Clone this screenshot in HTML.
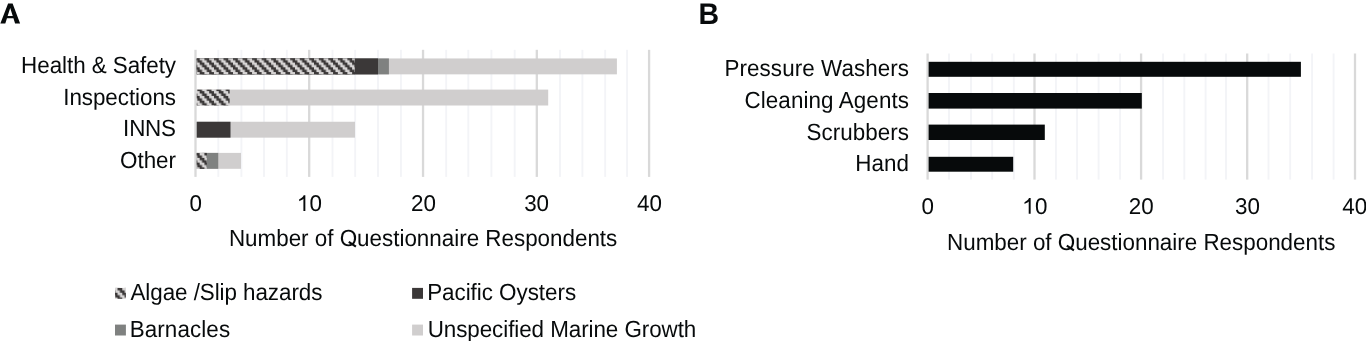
<!DOCTYPE html><html><head><meta charset="utf-8"><style>html,body{margin:0;padding:0;background:#fff;width:1366px;height:341px;overflow:hidden}svg{display:block;will-change:transform}text{text-rendering:geometricPrecision;font-family:"Liberation Sans",sans-serif;fill:#070a0b}</style></head><body>
<svg width="1366" height="341" viewBox="0 0 1366 341">
<defs>
<pattern id="h" patternUnits="userSpaceOnUse" width="9.530" height="9.530" x="194.90" y="57.80"><rect width="9.530" height="9.530" fill="#d6d4d4"/><path d="M-30.972,-7.147 L-30.972,-4.765 L-28.590,-4.765 L-28.590,-2.382 L-26.207,-2.382 L-26.207,0.000 L-23.825,0.000 L-23.825,2.382 L-21.442,2.382 L-21.442,4.765 L-19.060,4.765 L-19.060,7.147 L-16.677,7.147 L-16.677,9.530 L-14.295,9.530 L-14.295,11.912 L-11.912,11.912 L-11.912,14.295 L-9.530,14.295 L-9.530,16.677 L-7.147,16.677 L-7.147,19.060 L-11.912,19.060 L-11.912,16.677 L-14.295,16.677 L-14.295,14.295 L-16.677,14.295 L-16.677,11.912 L-19.060,11.912 L-19.060,9.530 L-21.442,9.530 L-21.442,7.147 L-23.825,7.147 L-23.825,4.765 L-26.207,4.765 L-26.207,2.382 L-28.590,2.382 L-28.590,0.000 L-30.972,0.000 L-30.972,-2.382 L-33.355,-2.382 L-33.355,-4.765 L-35.737,-4.765 L-35.737,-7.147Z M-21.442,-7.147 L-21.442,-4.765 L-19.060,-4.765 L-19.060,-2.382 L-16.677,-2.382 L-16.677,0.000 L-14.295,0.000 L-14.295,2.382 L-11.912,2.382 L-11.912,4.765 L-9.530,4.765 L-9.530,7.147 L-7.147,7.147 L-7.147,9.530 L-4.765,9.530 L-4.765,11.912 L-2.382,11.912 L-2.382,14.295 L0.000,14.295 L0.000,16.677 L2.382,16.677 L2.382,19.060 L-2.382,19.060 L-2.382,16.677 L-4.765,16.677 L-4.765,14.295 L-7.147,14.295 L-7.147,11.912 L-9.530,11.912 L-9.530,9.530 L-11.912,9.530 L-11.912,7.147 L-14.295,7.147 L-14.295,4.765 L-16.677,4.765 L-16.677,2.382 L-19.060,2.382 L-19.060,0.000 L-21.442,0.000 L-21.442,-2.382 L-23.825,-2.382 L-23.825,-4.765 L-26.207,-4.765 L-26.207,-7.147Z M-11.912,-7.147 L-11.912,-4.765 L-9.530,-4.765 L-9.530,-2.382 L-7.147,-2.382 L-7.147,0.000 L-4.765,0.000 L-4.765,2.382 L-2.382,2.382 L-2.382,4.765 L0.000,4.765 L0.000,7.147 L2.382,7.147 L2.382,9.530 L4.765,9.530 L4.765,11.912 L7.147,11.912 L7.147,14.295 L9.530,14.295 L9.530,16.677 L11.912,16.677 L11.912,19.060 L7.147,19.060 L7.147,16.677 L4.765,16.677 L4.765,14.295 L2.382,14.295 L2.382,11.912 L0.000,11.912 L0.000,9.530 L-2.382,9.530 L-2.382,7.147 L-4.765,7.147 L-4.765,4.765 L-7.147,4.765 L-7.147,2.382 L-9.530,2.382 L-9.530,0.000 L-11.912,0.000 L-11.912,-2.382 L-14.295,-2.382 L-14.295,-4.765 L-16.677,-4.765 L-16.677,-7.147Z M-2.382,-7.147 L-2.382,-4.765 L0.000,-4.765 L0.000,-2.382 L2.382,-2.382 L2.382,0.000 L4.765,0.000 L4.765,2.382 L7.147,2.382 L7.147,4.765 L9.530,4.765 L9.530,7.147 L11.912,7.147 L11.912,9.530 L14.295,9.530 L14.295,11.912 L16.677,11.912 L16.677,14.295 L19.060,14.295 L19.060,16.677 L21.442,16.677 L21.442,19.060 L16.677,19.060 L16.677,16.677 L14.295,16.677 L14.295,14.295 L11.912,14.295 L11.912,11.912 L9.530,11.912 L9.530,9.530 L7.147,9.530 L7.147,7.147 L4.765,7.147 L4.765,4.765 L2.382,4.765 L2.382,2.382 L0.000,2.382 L0.000,0.000 L-2.382,0.000 L-2.382,-2.382 L-4.765,-2.382 L-4.765,-4.765 L-7.147,-4.765 L-7.147,-7.147Z M7.147,-7.147 L7.147,-4.765 L9.530,-4.765 L9.530,-2.382 L11.912,-2.382 L11.912,0.000 L14.295,0.000 L14.295,2.382 L16.677,2.382 L16.677,4.765 L19.060,4.765 L19.060,7.147 L21.442,7.147 L21.442,9.530 L23.825,9.530 L23.825,11.912 L26.207,11.912 L26.207,14.295 L28.590,14.295 L28.590,16.677 L30.972,16.677 L30.972,19.060 L26.207,19.060 L26.207,16.677 L23.825,16.677 L23.825,14.295 L21.442,14.295 L21.442,11.912 L19.060,11.912 L19.060,9.530 L16.677,9.530 L16.677,7.147 L14.295,7.147 L14.295,4.765 L11.912,4.765 L11.912,2.382 L9.530,2.382 L9.530,0.000 L7.147,0.000 L7.147,-2.382 L4.765,-2.382 L4.765,-4.765 L2.382,-4.765 L2.382,-7.147Z M16.677,-7.147 L16.677,-4.765 L19.060,-4.765 L19.060,-2.382 L21.442,-2.382 L21.442,0.000 L23.825,0.000 L23.825,2.382 L26.207,2.382 L26.207,4.765 L28.590,4.765 L28.590,7.147 L30.972,7.147 L30.972,9.530 L33.355,9.530 L33.355,11.912 L35.737,11.912 L35.737,14.295 L38.120,14.295 L38.120,16.677 L40.502,16.677 L40.502,19.060 L35.737,19.060 L35.737,16.677 L33.355,16.677 L33.355,14.295 L30.972,14.295 L30.972,11.912 L28.590,11.912 L28.590,9.530 L26.207,9.530 L26.207,7.147 L23.825,7.147 L23.825,4.765 L21.442,4.765 L21.442,2.382 L19.060,2.382 L19.060,0.000 L16.677,0.000 L16.677,-2.382 L14.295,-2.382 L14.295,-4.765 L11.912,-4.765 L11.912,-7.147Z" fill="#3b3838"/></pattern>
<pattern id="h2" patternUnits="userSpaceOnUse" width="9.530" height="9.530" x="108.00" y="288.00"><rect width="9.530" height="9.530" fill="#d6d4d4"/><path d="M-30.972,-7.147 L-30.972,-4.765 L-28.590,-4.765 L-28.590,-2.382 L-26.207,-2.382 L-26.207,0.000 L-23.825,0.000 L-23.825,2.382 L-21.442,2.382 L-21.442,4.765 L-19.060,4.765 L-19.060,7.147 L-16.677,7.147 L-16.677,9.530 L-14.295,9.530 L-14.295,11.912 L-11.912,11.912 L-11.912,14.295 L-9.530,14.295 L-9.530,16.677 L-7.147,16.677 L-7.147,19.060 L-11.912,19.060 L-11.912,16.677 L-14.295,16.677 L-14.295,14.295 L-16.677,14.295 L-16.677,11.912 L-19.060,11.912 L-19.060,9.530 L-21.442,9.530 L-21.442,7.147 L-23.825,7.147 L-23.825,4.765 L-26.207,4.765 L-26.207,2.382 L-28.590,2.382 L-28.590,0.000 L-30.972,0.000 L-30.972,-2.382 L-33.355,-2.382 L-33.355,-4.765 L-35.737,-4.765 L-35.737,-7.147Z M-21.442,-7.147 L-21.442,-4.765 L-19.060,-4.765 L-19.060,-2.382 L-16.677,-2.382 L-16.677,0.000 L-14.295,0.000 L-14.295,2.382 L-11.912,2.382 L-11.912,4.765 L-9.530,4.765 L-9.530,7.147 L-7.147,7.147 L-7.147,9.530 L-4.765,9.530 L-4.765,11.912 L-2.382,11.912 L-2.382,14.295 L0.000,14.295 L0.000,16.677 L2.382,16.677 L2.382,19.060 L-2.382,19.060 L-2.382,16.677 L-4.765,16.677 L-4.765,14.295 L-7.147,14.295 L-7.147,11.912 L-9.530,11.912 L-9.530,9.530 L-11.912,9.530 L-11.912,7.147 L-14.295,7.147 L-14.295,4.765 L-16.677,4.765 L-16.677,2.382 L-19.060,2.382 L-19.060,0.000 L-21.442,0.000 L-21.442,-2.382 L-23.825,-2.382 L-23.825,-4.765 L-26.207,-4.765 L-26.207,-7.147Z M-11.912,-7.147 L-11.912,-4.765 L-9.530,-4.765 L-9.530,-2.382 L-7.147,-2.382 L-7.147,0.000 L-4.765,0.000 L-4.765,2.382 L-2.382,2.382 L-2.382,4.765 L0.000,4.765 L0.000,7.147 L2.382,7.147 L2.382,9.530 L4.765,9.530 L4.765,11.912 L7.147,11.912 L7.147,14.295 L9.530,14.295 L9.530,16.677 L11.912,16.677 L11.912,19.060 L7.147,19.060 L7.147,16.677 L4.765,16.677 L4.765,14.295 L2.382,14.295 L2.382,11.912 L0.000,11.912 L0.000,9.530 L-2.382,9.530 L-2.382,7.147 L-4.765,7.147 L-4.765,4.765 L-7.147,4.765 L-7.147,2.382 L-9.530,2.382 L-9.530,0.000 L-11.912,0.000 L-11.912,-2.382 L-14.295,-2.382 L-14.295,-4.765 L-16.677,-4.765 L-16.677,-7.147Z M-2.382,-7.147 L-2.382,-4.765 L0.000,-4.765 L0.000,-2.382 L2.382,-2.382 L2.382,0.000 L4.765,0.000 L4.765,2.382 L7.147,2.382 L7.147,4.765 L9.530,4.765 L9.530,7.147 L11.912,7.147 L11.912,9.530 L14.295,9.530 L14.295,11.912 L16.677,11.912 L16.677,14.295 L19.060,14.295 L19.060,16.677 L21.442,16.677 L21.442,19.060 L16.677,19.060 L16.677,16.677 L14.295,16.677 L14.295,14.295 L11.912,14.295 L11.912,11.912 L9.530,11.912 L9.530,9.530 L7.147,9.530 L7.147,7.147 L4.765,7.147 L4.765,4.765 L2.382,4.765 L2.382,2.382 L0.000,2.382 L0.000,0.000 L-2.382,0.000 L-2.382,-2.382 L-4.765,-2.382 L-4.765,-4.765 L-7.147,-4.765 L-7.147,-7.147Z M7.147,-7.147 L7.147,-4.765 L9.530,-4.765 L9.530,-2.382 L11.912,-2.382 L11.912,0.000 L14.295,0.000 L14.295,2.382 L16.677,2.382 L16.677,4.765 L19.060,4.765 L19.060,7.147 L21.442,7.147 L21.442,9.530 L23.825,9.530 L23.825,11.912 L26.207,11.912 L26.207,14.295 L28.590,14.295 L28.590,16.677 L30.972,16.677 L30.972,19.060 L26.207,19.060 L26.207,16.677 L23.825,16.677 L23.825,14.295 L21.442,14.295 L21.442,11.912 L19.060,11.912 L19.060,9.530 L16.677,9.530 L16.677,7.147 L14.295,7.147 L14.295,4.765 L11.912,4.765 L11.912,2.382 L9.530,2.382 L9.530,0.000 L7.147,0.000 L7.147,-2.382 L4.765,-2.382 L4.765,-4.765 L2.382,-4.765 L2.382,-7.147Z M16.677,-7.147 L16.677,-4.765 L19.060,-4.765 L19.060,-2.382 L21.442,-2.382 L21.442,0.000 L23.825,0.000 L23.825,2.382 L26.207,2.382 L26.207,4.765 L28.590,4.765 L28.590,7.147 L30.972,7.147 L30.972,9.530 L33.355,9.530 L33.355,11.912 L35.737,11.912 L35.737,14.295 L38.120,14.295 L38.120,16.677 L40.502,16.677 L40.502,19.060 L35.737,19.060 L35.737,16.677 L33.355,16.677 L33.355,14.295 L30.972,14.295 L30.972,11.912 L28.590,11.912 L28.590,9.530 L26.207,9.530 L26.207,7.147 L23.825,7.147 L23.825,4.765 L21.442,4.765 L21.442,2.382 L19.060,2.382 L19.060,0.000 L16.677,0.000 L16.677,-2.382 L14.295,-2.382 L14.295,-4.765 L11.912,-4.765 L11.912,-7.147Z" fill="#3b3838"/></pattern>
</defs>
<rect width="1366" height="341" fill="#fff"/>
<path fill-rule="evenodd" fill="#070a0b" d="M0.35,23.5 L8.1,3.4 L12.6,3.4 L20.1,23.5 L15.1,23.5 L13.43,18.2 L6.97,18.2 L5.3,23.5 Z M10.2,8.0 L7.64,16.1 L12.76,16.1 Z"/>
<text transform="translate(698.60,24.00) scale(1,1.045)" font-size="28.5" font-weight="bold">B</text>
<rect x="217.35" y="49.80" width="1.9" height="127.10" fill="#f3f4f7"/>
<rect x="240.45" y="49.80" width="1.9" height="127.10" fill="#f3f4f7"/>
<rect x="263.05" y="49.80" width="1.9" height="127.10" fill="#f3f4f7"/>
<rect x="285.85" y="49.80" width="1.9" height="127.10" fill="#f3f4f7"/>
<rect x="331.55" y="49.80" width="1.9" height="127.10" fill="#f3f4f7"/>
<rect x="354.25" y="49.80" width="1.9" height="127.10" fill="#f3f4f7"/>
<rect x="377.05" y="49.80" width="1.9" height="127.10" fill="#f3f4f7"/>
<rect x="399.95" y="49.80" width="1.9" height="127.10" fill="#f3f4f7"/>
<rect x="445.25" y="49.80" width="1.9" height="127.10" fill="#f3f4f7"/>
<rect x="467.35" y="49.80" width="1.9" height="127.10" fill="#f3f4f7"/>
<rect x="490.45" y="49.80" width="1.9" height="127.10" fill="#f3f4f7"/>
<rect x="513.75" y="49.80" width="1.9" height="127.10" fill="#f3f4f7"/>
<rect x="559.05" y="49.80" width="1.9" height="127.10" fill="#f3f4f7"/>
<rect x="581.45" y="49.80" width="1.9" height="127.10" fill="#f3f4f7"/>
<rect x="604.25" y="49.80" width="1.9" height="127.10" fill="#f3f4f7"/>
<rect x="626.15" y="49.80" width="1.9" height="127.10" fill="#f3f4f7"/>
<rect x="194.35" y="49.80" width="2.3" height="127.10" fill="#d9d9d9"/>
<rect x="308.05" y="49.80" width="2.3" height="127.10" fill="#d9d9d9"/>
<rect x="421.90" y="49.80" width="2.3" height="127.10" fill="#d9d9d9"/>
<rect x="535.65" y="49.80" width="2.3" height="127.10" fill="#d9d9d9"/>
<rect x="647.95" y="49.80" width="2.3" height="127.10" fill="#d9d9d9"/>
<rect x="948.05" y="53.50" width="1.9" height="126.10" fill="#f3f4f7"/>
<rect x="970.05" y="53.50" width="1.9" height="126.10" fill="#f3f4f7"/>
<rect x="991.25" y="53.50" width="1.9" height="126.10" fill="#f3f4f7"/>
<rect x="1012.85" y="53.50" width="1.9" height="126.10" fill="#f3f4f7"/>
<rect x="1054.95" y="53.50" width="1.9" height="126.10" fill="#f3f4f7"/>
<rect x="1076.15" y="53.50" width="1.9" height="126.10" fill="#f3f4f7"/>
<rect x="1097.65" y="53.50" width="1.9" height="126.10" fill="#f3f4f7"/>
<rect x="1119.15" y="53.50" width="1.9" height="126.10" fill="#f3f4f7"/>
<rect x="1162.15" y="53.50" width="1.9" height="126.10" fill="#f3f4f7"/>
<rect x="1183.35" y="53.50" width="1.9" height="126.10" fill="#f3f4f7"/>
<rect x="1204.65" y="53.50" width="1.9" height="126.10" fill="#f3f4f7"/>
<rect x="1225.05" y="53.50" width="1.9" height="126.10" fill="#f3f4f7"/>
<rect x="1267.55" y="53.50" width="1.9" height="126.10" fill="#f3f4f7"/>
<rect x="1289.25" y="53.50" width="1.9" height="126.10" fill="#f3f4f7"/>
<rect x="1311.15" y="53.50" width="1.9" height="126.10" fill="#f3f4f7"/>
<rect x="1332.65" y="53.50" width="1.9" height="126.10" fill="#f3f4f7"/>
<rect x="926.45" y="53.50" width="2.3" height="126.10" fill="#d9d9d9"/>
<rect x="1033.35" y="53.50" width="2.3" height="126.10" fill="#d9d9d9"/>
<rect x="1139.95" y="53.50" width="2.3" height="126.10" fill="#d9d9d9"/>
<rect x="1246.05" y="53.50" width="2.3" height="126.10" fill="#d9d9d9"/>
<rect x="1353.85" y="53.50" width="2.3" height="126.10" fill="#d9d9d9"/>
<rect x="196.70" y="58.45" width="420.20" height="15.90" fill="#d0cece"/>
<rect x="196.70" y="58.45" width="192.20" height="15.90" fill="#7f8180"/>
<rect x="196.70" y="58.45" width="181.30" height="15.90" fill="#3b3838"/>
<rect x="196.70" y="58.45" width="158.06" height="15.90" fill="url(#h)"/>
<rect x="196.70" y="89.60" width="351.50" height="15.90" fill="#d0cece"/>
<rect x="196.70" y="89.60" width="32.93" height="15.90" fill="url(#h)"/>
<rect x="196.70" y="121.75" width="158.30" height="15.90" fill="#d0cece"/>
<rect x="196.70" y="121.75" width="33.80" height="15.90" fill="#3b3838"/>
<rect x="196.70" y="152.90" width="44.30" height="15.90" fill="#d0cece"/>
<rect x="196.70" y="152.90" width="21.55" height="15.90" fill="#7f8180"/>
<rect x="196.70" y="152.90" width="10.20" height="15.90" fill="url(#h)"/>
<text transform="translate(176.00,73.00) scale(1,1.045)" font-size="22.4" text-anchor="end" textLength="154.90" lengthAdjust="spacing">Health &amp; Safety</text>
<text transform="translate(176.00,105.00) scale(1,1.045)" font-size="22.4" text-anchor="end" textLength="112.80" lengthAdjust="spacing">Inspections</text>
<text transform="translate(176.00,136.00) scale(1,1.045)" font-size="22.4" text-anchor="end" textLength="52.90" lengthAdjust="spacing">INNS</text>
<text transform="translate(176.00,168.00) scale(1,1.045)" font-size="22.4" text-anchor="end">Other</text>
<text transform="translate(195.70,210.90) scale(1,1.020)" font-size="22.4" text-anchor="middle">0</text>
<path transform="translate(297.14,210.90) scale(0.010937,-0.011156)" d="M750,0 L574,0 L574,1100 C515,1046 440,992 360,948 C290,910 230,882 190,866 L190,1034 C280,1074 370,1134 450,1206 C520,1270 570,1340 600,1409 L750,1409 Z" fill="#070a0b"/>
<text transform="translate(309.60,210.90) scale(1,1.020)" font-size="22.4">0</text>
<text transform="translate(423.45,210.90) scale(1,1.020)" font-size="22.4" text-anchor="middle">20</text>
<text transform="translate(536.60,210.90) scale(1,1.020)" font-size="22.4" text-anchor="middle">30</text>
<text transform="translate(649.40,210.90) scale(1,1.020)" font-size="22.4" text-anchor="middle">40</text>
<text transform="translate(423.10,246.00) scale(1,1.045)" font-size="22.4" text-anchor="middle">Number of Ouestionnaire Respondents</text>
<rect x="928.60" y="61.80" width="372.30" height="15.00" fill="#070a0b"/>
<text transform="translate(909.00,76.30) scale(1,1.045)" font-size="22.4" text-anchor="end" textLength="184.50" lengthAdjust="spacing">Pressure Washers</text>
<rect x="928.60" y="93.00" width="213.20" height="15.60" fill="#070a0b"/>
<text transform="translate(909.00,108.40) scale(1,1.045)" font-size="22.4" text-anchor="end" textLength="164.60" lengthAdjust="spacing">Cleaning Agents</text>
<rect x="928.60" y="124.60" width="116.20" height="15.40" fill="#070a0b"/>
<text transform="translate(909.00,139.60) scale(1,1.045)" font-size="22.4" text-anchor="end" textLength="102.60" lengthAdjust="spacing">Scrubbers</text>
<rect x="928.60" y="156.80" width="84.60" height="14.90" fill="#070a0b"/>
<text transform="translate(909.00,171.20) scale(1,1.045)" font-size="22.4" text-anchor="end" textLength="53.80" lengthAdjust="spacing">Hand</text>
<text transform="translate(927.80,213.70) scale(1,1.020)" font-size="22.4" text-anchor="middle">0</text>
<path transform="translate(1022.44,213.70) scale(0.010937,-0.011156)" d="M750,0 L574,0 L574,1100 C515,1046 440,992 360,948 C290,910 230,882 190,866 L190,1034 C280,1074 370,1134 450,1206 C520,1270 570,1340 600,1409 L750,1409 Z" fill="#070a0b"/>
<text transform="translate(1034.90,213.70) scale(1,1.020)" font-size="22.4">0</text>
<text transform="translate(1141.30,213.70) scale(1,1.020)" font-size="22.4" text-anchor="middle">20</text>
<text transform="translate(1247.40,213.70) scale(1,1.020)" font-size="22.4" text-anchor="middle">30</text>
<text transform="translate(1354.70,213.70) scale(1,1.020)" font-size="22.4" text-anchor="middle">40</text>
<text transform="translate(1141.20,249.70) scale(1,1.045)" font-size="22.4" text-anchor="middle">Number of Ouestionnaire Respondents</text>
<path d="M348.80,241.90 L355.90,246.60" stroke="#070a0b" stroke-width="2.1" fill="none"/>
<path d="M1066.80,245.60 L1073.90,250.30" stroke="#070a0b" stroke-width="2.1" fill="none"/>
<rect x="115" y="287.9" width="10.9" height="10.9" fill="url(#h2)"/>
<text transform="translate(130.50,300.30) scale(1,1.045)" font-size="22.4" textLength="191.90" lengthAdjust="spacing">Algae /Slip hazards</text>
<rect x="412.1" y="287.9" width="10.9" height="10.9" fill="#3b3838"/>
<text transform="translate(427.20,300.30) scale(1,1.045)" font-size="22.4" textLength="148.90" lengthAdjust="spacing">Pacific Oysters</text>
<rect x="115" y="324.6" width="10.9" height="10.9" fill="#7f8180"/>
<text transform="translate(129.70,336.80) scale(1,1.045)" font-size="22.4" textLength="100.40" lengthAdjust="spacing">Barnacles</text>
<rect x="412.1" y="324.6" width="10.9" height="10.9" fill="#d0cece"/>
<text transform="translate(427.70,336.80) scale(1,1.045)" font-size="22.4" textLength="268.60" lengthAdjust="spacing">Unspecified Marine Growth</text>
</svg></body></html>
